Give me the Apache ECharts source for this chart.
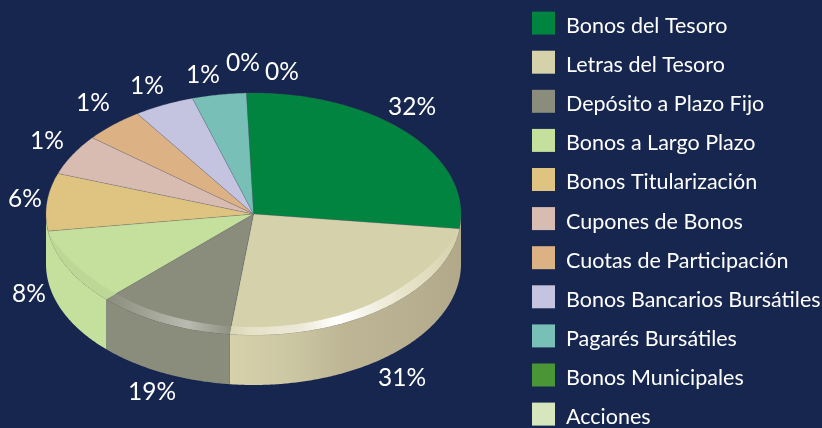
<!DOCTYPE html>
<html><head><meta charset="utf-8">
<style>html,body{margin:0;padding:0;background:#16264f;overflow:hidden}#c{width:822px;height:428px}</style>
<script src="https://cdn.jsdelivr.net/npm/echarts@6/dist/echarts.min.js"></script>
</head><body><div id="c"></div>
<script>
const categories = ['Bonos del Tesoro','Letras del Tesoro','Depósito a Plazo Fijo','Bonos a Largo Plazo','Bonos Titularización','Cupones de Bonos','Cuotas de Participación','Bonos Bancarios Bursátiles','Pagarés Bursátiles','Bonos Municipales','Acciones'];
const labelPercents = [32,31,19,8,6,1,1,1,1,0,0];
// Share of the circle each slice occupies as drawn (read from the picture; not equal to the printed labels)
const drawnShares = [27.5,24.9,10.7,10.2,7.7,5.4,4.7,4.7,4.2,0,0];

const colors = ['#00843f','#d5d1aa','#8a8c7c','#c5df9c','#dfc380','#d8bcb2','#dcb184','#c4c3e0','#77bfb7','#4a9637','#d7e7bd'];
const labelCentres = [[412,107],[402,378],[152,392],[29,294],[25,199],[47,141],[93,103],[147,86],[203,75],[243,63],[282,72]];
const geo = {cx:253.5, cy:214, rx:207.5, ry:121, depth:50, bandDepth:0.066, bandFade:38, startDeg:-2};
const wallStops = {
  1:[[0,'#d6d1aa'],[0.25,'#cdc8a4'],[0.5,'#bdb594'],[0.75,'#b8b090'],[1,'#b1a98a']]
};
const bandStops = {
  1:[[0,'#dbd6b6'],[0.1,'#e6e2c8'],[0.3,'#ece8d6'],[0.47,'#ffffff'],[0.75,'#e8e4cc'],[1,'#d6d2ac']],
  2:[[0,'#8a8c7c'],[0.65,'#b9bbb0'],[1,'#8e9081']],
  3:[[0,'#bdd796'],[1,'#bdd796']]
};

const total = drawnShares.reduce((a,b)=>a+b,0);
const ranges = []; let acc = geo.startDeg;
drawnShares.forEach(s=>{const d=s/total*360; ranges.push([acc,acc+d]); acc+=d;});
const isLower = i=>{const [a,b]=ranges[i]; const m=(a+b)/2; return b>a && m>90 && m<270;};
const lowerIdx = ranges.map((_,i)=>i).filter(isLower);
const bandFrom = ranges[lowerIdx[0]][0], bandTo = ranges[lowerIdx[lowerIdx.length-1]][1];

function pt(deg,ry,dy){const t=deg*Math.PI/180;return [geo.cx+geo.rx*Math.sin(t),geo.cy-ry*Math.cos(t)+(dy||0)];}
function arc(a,b,ry,dy){const n=Math.max(2,Math.ceil(Math.abs(b-a)*2));const p=[];for(let i=0;i<=n;i++)p.push(pt(a+(b-a)*i/n,ry,dy));return p;}
function innerArc(a,b){
  const n=Math.max(2,Math.ceil(Math.abs(b-a)*2));const p=[];
  for(let i=0;i<=n;i++){
    const d=a+(b-a)*i/n;
    const edge=Math.min(d-bandFrom,bandTo-d);
    const taper=Math.sin(Math.min(1,Math.max(0,edge/geo.bandFade))*Math.PI/2);
    const k=1-geo.bandDepth*taper;const t=d*Math.PI/180;
    p.push([geo.cx+k*geo.rx*Math.sin(t),geo.cy-k*geo.ry*Math.cos(t)]);
  }
  return p;
}
function xGrad(stops,pts){const xs=pts.map(p=>p[0]);return new echarts.graphic.LinearGradient(Math.min(...xs),0,Math.max(...xs),0,stops.map(s=>({offset:s[0],color:s[1]})),true);}

function renderSlice(i){
  return function(){
    const children=[]; const [a,b]=ranges[i];
    if(lowerIdx.includes(i)){
      const wa=i===lowerIdx[0]?90:a, wb=i===lowerIdx[lowerIdx.length-1]?270:b;
      const pts=arc(wa,wb,geo.ry,0).concat(arc(wb,wa,geo.ry,geo.depth));
      children.push({type:'polygon',shape:{points:pts},style:{fill:wallStops[i]?xGrad(wallStops[i],pts):colors[i],stroke:null}});
    }
    if(b>a){
      const pts=[[geo.cx,geo.cy]].concat(arc(a,b,geo.ry,0));
      children.push({type:'polygon',shape:{points:pts},style:{fill:colors[i],stroke:'rgba(95,95,105,0.35)',lineWidth:0.6}});
    }
    if(lowerIdx.includes(i)){
      const pts=arc(a,b,geo.ry,0).concat(innerArc(b,a));
      children.push({type:'polygon',shape:{points:pts},style:{fill:xGrad(bandStops[i],pts)}});
    }
    children.push({type:'text',x:labelCentres[i][0],y:labelCentres[i][1],style:{text:labelPercents[i]+'%',fill:'#ffffff',font:'24.5px Lato',align:'center',verticalAlign:'middle'}});
    return {type:'group',children};
  };
}

const chart=echarts.init(document.getElementById('c'),null,{width:822,height:428});
chart.setOption({
  animation:false,
  backgroundColor:'#16264f',
  legend:{
    left:532,top:11.6,orient:'vertical',padding:0,height:540,
    itemWidth:23,itemHeight:23,itemGap:13.6,selectedMode:false,
    data:categories.map(name=>({name,icon:'rect'})),
    formatter:'{t|{name}}',
    textStyle:{color:'#ffffff',fontFamily:'Lato',fontSize:21.5,
      rich:{t:{color:'#ffffff',fontFamily:'Lato',fontSize:21.5,height:17,lineHeight:17,padding:[6,0,0,6]}}}
  },
  series:categories.map((name,i)=>({
    type:'custom',name,coordinateSystem:'none',silent:true,
    itemStyle:{color:colors[i]},
    data:[drawnShares[i]],
    renderItem:renderSlice(i)
  }))
});
</script></body></html>
